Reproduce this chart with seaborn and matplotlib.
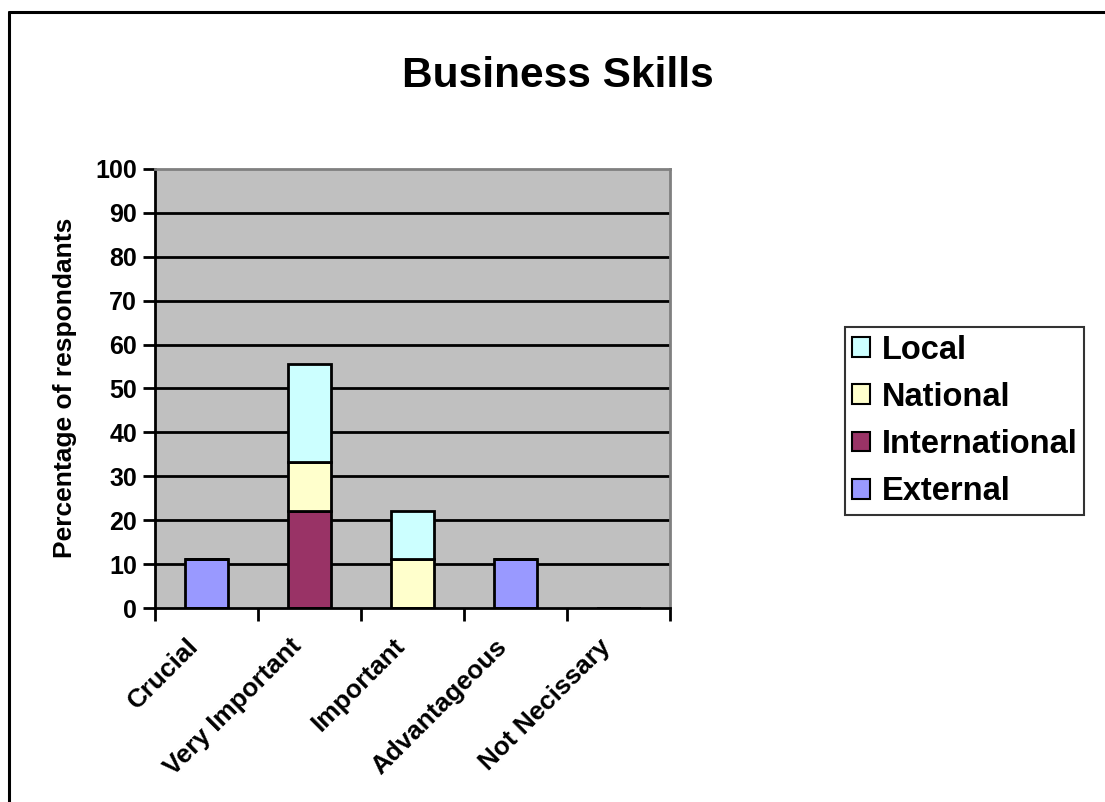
import matplotlib
matplotlib.use("Agg")
import matplotlib.pyplot as plt
import matplotlib.transforms as mtransforms
from matplotlib.lines import Line2D
import numpy as np
import seaborn as sns

# Chart data
categories = ["Crucial", "Very Important", "Important", "Advantageous", "Not Necissary"]
external = [11.1, 0.0, 0.0, 11.1, 0.0]
international = [0.0, 22.2, 0.0, 0.0, 0.0]
national = [0.0, 11.1, 11.1, 0.0, 0.0]
local = [0.0, 22.2, 11.1, 0.0, 0.0]

series_names = ["External", "International", "National", "Local"]
series_values = [external, international, national, local]
series_colors = ["#9999FF", "#993366", "#FFFFCC", "#CCFFFF"]

y_ticks = list(range(0, 101, 10))

sns.set_theme(style="white")
plt.rcParams["font.family"] = ["Liberation Sans", "DejaVu Sans"]
plt.rcParams["font.weight"] = "bold"
for key in ("text.color", "axes.labelcolor", "xtick.color", "ytick.color"):
    plt.rcParams[key] = "black"

fig = plt.figure(figsize=(11.05, 8.02), dpi=100)
fig.patch.set_facecolor("white")
ax = fig.add_axes([155 / 1105, 1 - 608 / 802, 515 / 1105, 439 / 802])
ax.set_facecolor("#C0C0C0")

# Stacked bars, bottom layer first
bottoms = np.zeros(len(categories))
for name, vals, col in zip(series_names, series_values, series_colors):
    sns.barplot(x=categories, y=vals, bottom=bottoms.copy(), color=col,
                edgecolor="black", linewidth=2, width=0.41, errorbar=None,
                ax=ax, zorder=3, saturation=1)
    bottoms = bottoms + np.array(vals)

# Horizontal gridlines
for v in y_ticks[1:-1]:
    ax.axhline(v, color="black", linewidth=2, zorder=1)

ax.set_xlim(-0.5, len(categories) - 0.5)
ax.set_ylim(0, 100)
ax.set_yticks(y_ticks)
ax.set_yticklabels([str(v) for v in y_ticks], fontsize=18, fontweight="bold")

ax.set_xticks(np.arange(-0.5, len(categories), 1.0), minor=True)
ax.tick_params(axis="x", which="major", length=0, pad=25)
ax.tick_params(axis="x", which="minor", length=9, width=2, color="black",
               direction="out", bottom=True)
ax.tick_params(axis="y", which="major", length=9, width=2, color="black",
               direction="out", left=True, pad=4)

ax.set_xticks(range(len(categories)))
ax.set_xticklabels(categories, rotation=45, ha="right", va="center",
                   rotation_mode="anchor", fontsize=18.8, fontweight="bold")
# Nudge the slanted category labels left
shift = mtransforms.ScaledTranslation(-0.12, 0, fig.dpi_scale_trans)
for lbl in ax.get_xticklabels():
    lbl.set_transform(lbl.get_transform() + shift)

ax.spines["left"].set_color("black")
ax.spines["left"].set_linewidth(2)
ax.spines["bottom"].set_color("black")
ax.spines["bottom"].set_linewidth(2)
ax.spines["top"].set_color("#808080")
ax.spines["top"].set_linewidth(2)
ax.spines["right"].set_color("#808080")
ax.spines["right"].set_linewidth(2)
for s in ax.spines.values():
    s.set_visible(True)
    s.set_zorder(4)
ax.set_xlabel("")
ax.set_ylabel("")

fig.text(65 / 1105, 1 - 388 / 802, "Percentage of respondants", rotation=90,
         ha="center", va="center", fontsize=19, fontweight="bold")
fig.text(558 / 1105, 1 - 76 / 802, "Business Skills", ha="center", va="center",
         fontsize=30.5, fontweight="bold")

# Legend in reverse stacking order
handles = [plt.Rectangle((0, 0), 1, 1, facecolor=c, edgecolor="black", linewidth=1.5)
           for c in series_colors][::-1]
leg = fig.legend(handles, series_names[::-1], loc="center left",
                 bbox_to_anchor=(845 / 1105, 1 - 421 / 802),
                 prop={"family": "Liberation Sans", "weight": "bold", "size": 23.5},
                 frameon=True, fancybox=False, shadow=False,
                 handlelength=0.55, handleheight=0.55, handletextpad=0.35,
                 labelspacing=0.5, borderpad=0.22, borderaxespad=0)
leg.get_frame().set_edgecolor("black")
leg.get_frame().set_linewidth(1.5)
leg.get_frame().set_facecolor("white")

# Outer chart frame (left and top edges)
fig.add_artist(Line2D([9 / 1105, 9 / 1105], [0, 1 - 12 / 802], color="black",
                      linewidth=2.2, transform=fig.transFigure))
fig.add_artist(Line2D([9 / 1105, 1], [1 - 12 / 802, 1 - 12 / 802], color="black",
                      linewidth=2.2, transform=fig.transFigure))

fig.savefig("out.png", dpi=100)
